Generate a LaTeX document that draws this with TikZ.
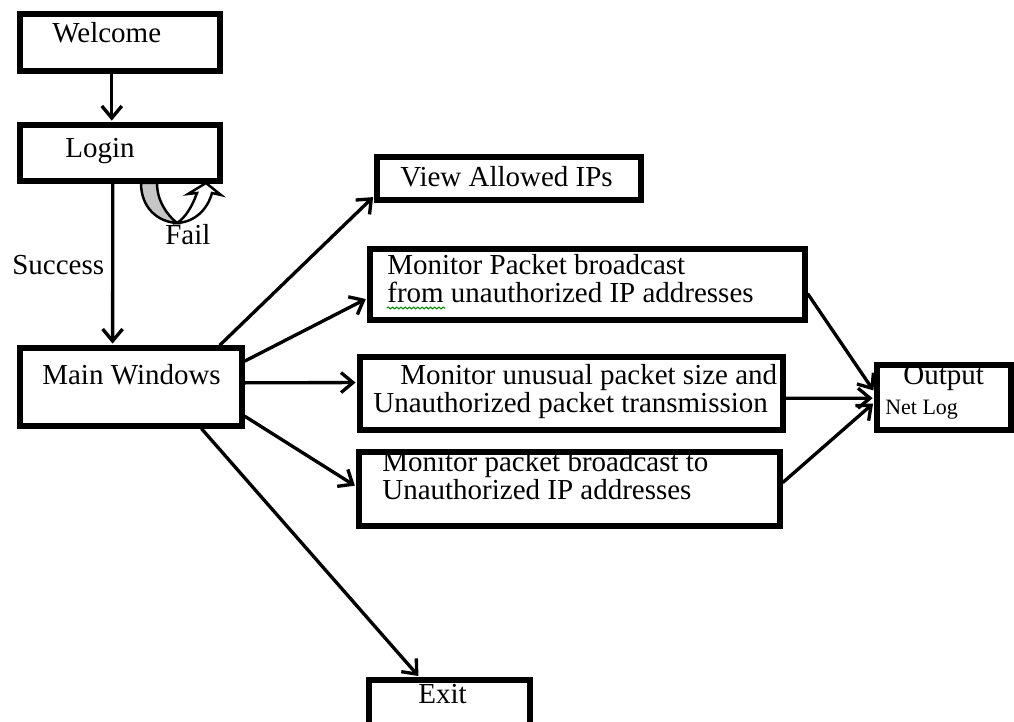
\documentclass[tikz,border=0pt]{standalone}
\usepackage{fontspec}
\setmainfont{Liberation Serif}
\usetikzlibrary{arrows.meta,calc,fit,decorations.pathmorphing}
\begin{document}
\begin{tikzpicture}[x=0.02cm,y=-0.02cm,
  box/.style={draw,line width=3pt,inner sep=0pt,fill=white},
  lbl/.style={inner sep=0pt,anchor=base west,font=\fontsize{16.5}{19}\selectfont},
  small/.style={inner sep=0pt,anchor=base west,font=\fontsize{12.5}{15}\selectfont},
  arr/.style={line width=1.9pt,shorten >=1pt,-{Straight Barb[length=2.4mm,width=4mm]}},
  link/.style={line width=1.9pt}]
\useasboundingbox (0,0) rectangle (1014,722);
\clip (0,0) rectangle (1014,722);

% curved "Fail" loop under the login box
\filldraw[fill=gray!45,line width=1.4pt] (141,183) .. controls (141,208) and (158,222) .. (177,223)
  .. controls (166,214) and (157,200) .. (157,183) -- cycle;
\filldraw[fill=white,line width=1.4pt] (177,223) .. controls (196,222) and (208,208) .. (212,193)
  -- (221,195) -- (206,183) -- (188,194) -- (197,193)
  .. controls (192,207) and (185,218) .. (177,223) -- cycle;

% boxes
\node[box,fit={(20,14) (220,71)}]   (welcome) {};
\node[box,fit={(20,125) (220,181)}] (login) {};
\node[box,fit={(20,348) (242,426)}] (main) {};
\node[box,fit={(377,157) (641,200)}] (view) {};
\node[box,fit={(370,249) (805,320)}] (packet) {};
\node[box,fit={(360,357) (783,430)}] (unusual) {};
\node[box,fit={(359,452) (780,526)}] (bcast) {};
\node[box,fit={(877,365) (1011,430)}] (output) {};
\node[box,fit={(369,680) (530,770)}] (exit) {};

% box texts
\node[lbl] (welcomeT) at (52,43) {Welcome};
\node[lbl] (loginT) at (65,158) {Login};
\node[lbl] (mainT) at (42,385) {Main Windows};
\node[lbl] (viewT) at (400,187) {View Allowed IPs};
\node[lbl] (packetT1) at (387,275) {Monitor Packet broadcast};
\node[lbl] (packetT2) at (387,303) {from unauthorized IP addresses};
\node[lbl] (unusualT1) at (400,385) {Monitor unusual packet size and};
\node[lbl] (unusualT2) at (373,413) {Unauthorized packet transmission};
\node[lbl] (bcastT1) at (382,472) {Monitor packet broadcast to};
\node[lbl] (bcastT2) at (382,500) {Unauthorized IP addresses};
\node[lbl] (outputT) at (903,385) {Output};
\node[small] (outputT2) at (885,415) {Net Log};
\node[lbl] (exitT) at (418,703) {Exit};
\node[lbl] (successT) at (12,275) {Success};
\node[lbl] (failT) at (165,245) {Fail};

% spelling underline beneath "from"
\draw[green!55!black,line width=0.6pt,decorate,
  decoration={snake,amplitude=0.5pt,segment length=2.4pt}]
  ($(packetT2.base west)+(0,5)$) -- ++(58,0);

% connectors
\draw[arr] ($(welcome.south west)!0.46!(welcome.south east)$) -- ($(login.north west)!0.46!(login.north east)$);
\draw[arr] ($(login.south west)!0.465!(login.south east)$) -- ($(main.north west)!0.419!(main.north east)$);
\draw[arr] ($(main.north west)!0.89!(main.north east)$) -- ($(view.north west)!0.86!(view.south west)$);
\draw[arr] ($(main.north east)!0.19!(main.south east)$) -- ($(packet.north west)!0.68!(packet.south west)$);
\draw[arr] ($(main.north east)!0.45!(main.south east)$) -- ($(unusual.north west)!0.36!(unusual.south west)$);
\draw[arr] ($(main.north east)!0.85!(main.south east)$) -- ($(bcast.north west)!0.47!(bcast.south west)$);
\draw[arr] ($(main.south west)!0.81!(main.south east)$) -- ($(exit.north west)!0.32!(exit.north east)$);
\draw[arr] ($(packet.north east)!0.62!(packet.south east)$) -- ($(output.north west)!0.42!(output.south west)$);
\draw[arr] ($(unusual.north east)!0.56!(unusual.south east)$) -- ($(output.north west)!0.51!(output.south west)$);
\draw[arr] ($(bcast.north east)!0.42!(bcast.south east)$) -- ($(output.north west)!0.57!(output.south west)$);
\end{tikzpicture}
\end{document}
